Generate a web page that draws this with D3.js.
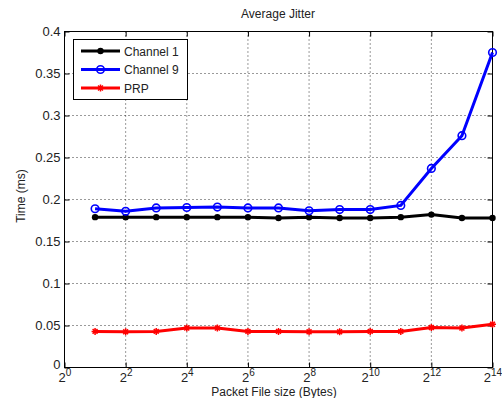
<!DOCTYPE html>
<html><head><meta charset="utf-8">
<script src="https://cdn.jsdelivr.net/npm/d3@7"></script>
<style>body{margin:0;background:#fff}svg{display:block;font-family:"Liberation Sans",Arial,sans-serif}</style>
</head><body><svg id="c" width="502" height="398"></svg>
<script>
const exponents = [1,2,3,4,5,6,7,8,9,10,11,12,13,14];
const channel1 = [0.179,0.179,0.179,0.179,0.179,0.179,0.178,0.179,0.178,0.178,0.179,0.182,0.178,0.178];
const channel9 = [0.189,0.186,0.190,0.1905,0.191,0.190,0.190,0.1865,0.188,0.188,0.193,0.237,0.276,0.375];
const prp = [0.043,0.0425,0.043,0.047,0.047,0.043,0.043,0.0425,0.0425,0.043,0.043,0.0475,0.047,0.0515];
const xTickExps = [0,2,4,6,8,10,12,14];
const yTicks = [0,0.05,0.1,0.15,0.2,0.25,0.3,0.35,0.4];
const seriesNames = ["Channel 1","Channel 9","PRP"];
const colors = ["#000000","#0000ff","#ff0000"];

const svg = d3.select("#c");
const L=64.5, R=492.5, T=31.5, B=367.5;
const x = d3.scaleLog().base(2).domain([1, 16384]).range([L,R]);
const y = d3.scaleLinear().domain([0,0.4]).range([B,T]);

// grid
const g = svg.append("g");
xTickExps.slice(1,-1).forEach(e=>{
  g.append("line").attr("x1",x(2**e)).attr("x2",x(2**e)).attr("y1",T).attr("y2",B)
   .attr("stroke","#000").attr("stroke-width",0.8).attr("stroke-dasharray","1,3");
});
yTicks.slice(1,-1).forEach(v=>{
  g.append("line").attr("x1",L).attr("x2",R).attr("y1",y(v)).attr("y2",y(v))
   .attr("stroke","#000").attr("stroke-width",0.8).attr("stroke-dasharray","1,3");
});

// axes
const xAxis = d3.axisBottom(x).tickValues(xTickExps.map(e=>2**e)).tickSize(-5).tickFormat("");
const xAxisTop = d3.axisTop(x).tickValues(xTickExps.map(e=>2**e)).tickSize(-5).tickFormat("");
const yAxis = d3.axisLeft(y).tickValues(yTicks).tickSize(-5).tickFormat(d3.format("~g"));
const yAxisR = d3.axisRight(y).tickValues(yTicks).tickSize(-5).tickFormat("");
function style(sel){sel.select(".domain").remove();sel.selectAll("line").attr("stroke","#000");sel.selectAll("text").attr("fill","#222");}
svg.append("g").attr("transform",`translate(0,${B})`).call(xAxis).call(style);
svg.append("g").attr("transform",`translate(0,${T})`).call(xAxisTop).call(style);
const ya = svg.append("g").attr("transform",`translate(${L},0)`).call(yAxis).call(style);
ya.selectAll("text").attr("font-size",13).attr("x",-4).attr("font-family","Liberation Sans, Arial, sans-serif");
ya.selectAll(".tick").filter(d=>d===0).select("text").attr("dy","0.1em");
svg.append("g").attr("transform",`translate(${R},0)`).call(yAxisR).call(style);
svg.append("rect").attr("x",L).attr("y",T).attr("width",R-L).attr("height",B-T)
  .attr("fill","none").attr("stroke","#000").attr("stroke-width",1);

// x tick labels with superscripts
xTickExps.forEach(e=>{
  const t = svg.append("text").attr("x",x(2**e)+0.5).attr("y",B+14.5).attr("text-anchor","middle")
    .attr("font-size",13).attr("fill","#222");
  t.append("tspan").text("2");
  t.append("tspan").attr("dy",-6).attr("font-size",10).text(e);
});

// title & labels
svg.append("text").attr("x",278).attr("y",18).attr("text-anchor","middle").attr("font-size",12).attr("fill","#222").text("Average Jitter");
svg.append("text").attr("x",274).attr("y",396).attr("text-anchor","middle").attr("font-size",12).attr("fill","#222").text("Packet File size (Bytes)");
svg.append("text").attr("transform","translate(25,196) rotate(-90)").attr("text-anchor","middle").attr("font-size",12).attr("fill","#222").text("Time (ms)");

// series
const data = [channel1, channel9, prp];
const line = d3.line().x((d,i)=>x(2**exponents[i])).y(d=>y(d));
function marker(sel, k, cx, cy){
  if(k===0){
    sel.append("circle").attr("cx",cx).attr("cy",cy).attr("r",3.2).attr("fill",colors[0]);
  } else if(k===1){
    sel.append("circle").attr("cx",cx).attr("cy",cy).attr("r",3.8).attr("fill","none").attr("stroke",colors[1]).attr("stroke-width",1.6);
  } else {
    const s=3.5;
    sel.append("path").attr("d",`M${cx-s},${cy}H${cx+s}M${cx},${cy-s}V${cy+s}M${cx-s*0.7},${cy-s*0.7}L${cx+s*0.7},${cy+s*0.7}M${cx-s*0.7},${cy+s*0.7}L${cx+s*0.7},${cy-s*0.7}`)
      .attr("stroke",colors[2]).attr("stroke-width",1.5);
  }
}
data.forEach((ser,k)=>{
  svg.append("path").datum(ser).attr("d",line).attr("fill","none").attr("stroke",colors[k]).attr("stroke-width",3);
  const mg = svg.append("g");
  ser.forEach((v,i)=>marker(mg,k,x(2**exponents[i]),y(v)));
});

// legend
const lg = svg.append("g");
lg.append("rect").attr("x",73.5).attr("y",39.5).attr("width",114).attr("height",60).attr("fill","#fff").attr("stroke","#000").attr("stroke-width",1);
seriesNames.forEach((n,k)=>{
  const yy = 51 + k*18.5;
  lg.append("line").attr("x1",81).attr("x2",120).attr("y1",yy).attr("y2",yy).attr("stroke",colors[k]).attr("stroke-width",3);
  marker(lg,k,100.5,yy);
  lg.append("text").attr("x",124).attr("y",yy+4.5).attr("font-size",12).attr("fill","#222").text(n);
});
</script></body></html>
